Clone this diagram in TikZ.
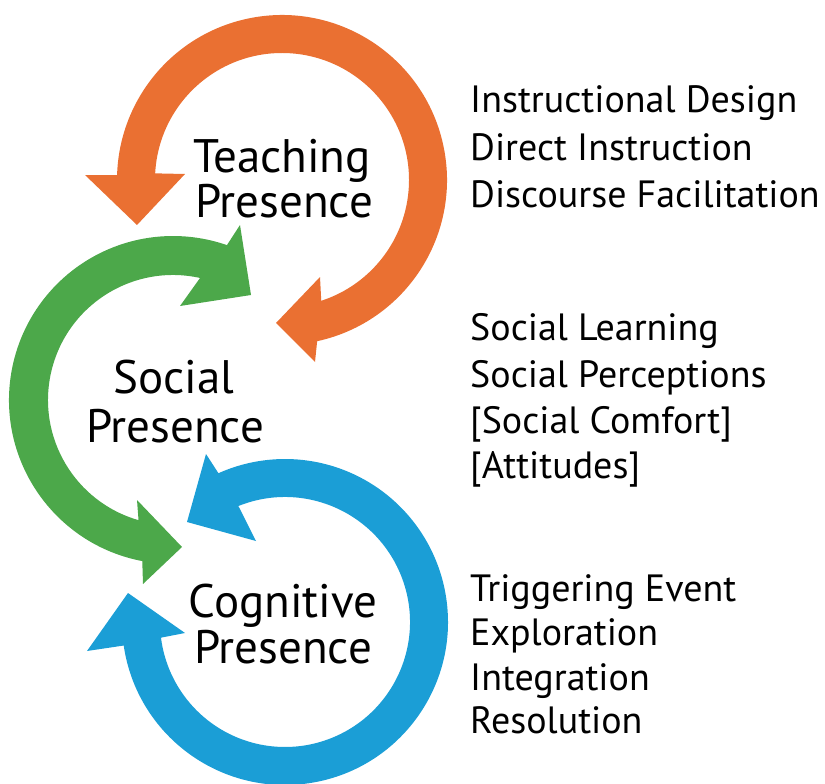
\documentclass[tikz,border=0pt]{standalone}
\usepackage{fontspec}
\setmainfont{PT Sans}
\definecolor{cyclered}{RGB}{234,112,50}
\definecolor{cyclegreen}{RGB}{76,168,74}
\definecolor{cycleblue}{RGB}{27,158,214}
\begin{document}
\begin{tikzpicture}[x=1pt,y=-1pt,
  presence/.style={anchor=base,inner sep=0pt,font=\fontsize{47}{56}\selectfont},
  element/.style={anchor=base west,inner sep=0pt,font=\fontsize{38}{46}\selectfont}]
\useasboundingbox (0,0) rectangle (825,784);

% teaching presence: ring around the top, heads at both ends
\fill[cyclered] ([shift={(282,180)}]77.7:165)
  arc[start angle=77.7, end angle=-178.3, radius=165]
  -- (85,175) -- (137,225) -- (185,174)
  -- ([shift={(282,180)}]-177:127)
  arc[start angle=-177, end angle=72, radius=127]
  -- (320,277) -- (276,323) -- (315,362) -- cycle;

% social presence: ring around the left side
\fill[cyclegreen] ([shift={(173,400)}]100.8:164)
  arc[start angle=100.8, end angle=289.2, radius=164]
  -- (240,225) -- (251,295) -- (180,306)
  -- ([shift={(173,400)}]282.5:125)
  arc[start angle=282.5, end angle=106, radius=125]
  -- (137,500) -- (182,547) -- (143,584) -- cycle;

% cognitive presence: ring around the bottom
\fill[cycleblue] ([shift={(285,622)}]171.7:163)
  arc[start angle=171.7, end angle=-114.1, radius=163]
  -- (206,454) -- (187,522) -- (256,541)
  -- ([shift={(285,622)}]-111.9:125)
  arc[start angle=-111.9, end angle=172.8, radius=125]
  -- (185,633) -- (128,593) -- (87,651) -- cycle;

% ring labels
\node[presence] (tp1) at (282,172) {Teaching};
\node[presence] (tp2) at (284,217) {Presence};
\node[presence] (sp1) at (174,393) {Social};
\node[presence] (sp2) at (175,442) {Presence};
\node[presence] (cp1) at (283,617) {Cognitive};
\node[presence] (cp2) at (283,663) {Presence};

% elements of each presence
\node[element] (t1) at (470,112) {Instructional Design};
\node[element] (t2) at (470,160) {Direct Instruction};
\node[element] (t3) at (470,207) {Discourse Facilitation};
\node[element] (s1) at (470,340) {Social Learning};
\node[element] (s2) at (470,387) {Social Perceptions};
\node[element] (s3) at (470,433) {[Social Comfort]};
\node[element] (s4) at (470,478) {[Attitudes]};
\node[element] (c1) at (470,601) {Triggering Event};
\node[element] (c2) at (470,645) {Exploration};
\node[element] (c3) at (470,690) {Integration};
\node[element] (c4) at (470,733) {Resolution};
\end{tikzpicture}
\end{document}
